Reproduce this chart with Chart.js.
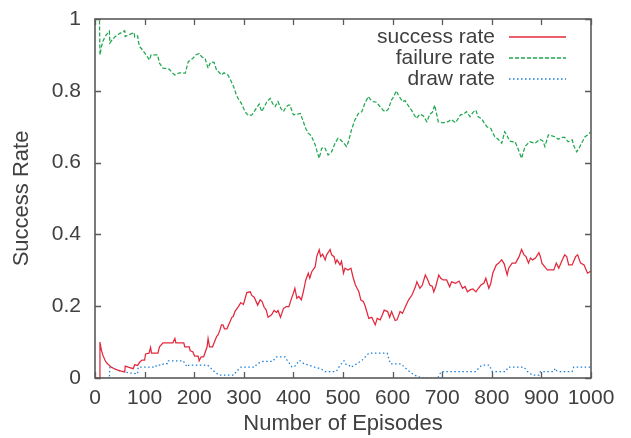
<!DOCTYPE html>
<html>
<head>
<meta charset="utf-8">
<script src="https://cdn.jsdelivr.net/npm/chart.js@4/dist/chart.umd.min.js"></script>
<style>
  html, body { margin: 0; padding: 0; background: #ffffff; }
  canvas { display: block; }
</style>
</head>
<body>
<canvas id="c" width="631" height="438"></canvas>
<script>
// Rates per episode (moving average over recent games)
const successEp = [0,9,10,13,16,20,23,28,33,40,46,53,60,61,70,77,80,86,90,95,100,102,109,112,114,127,130,137,157,161,163,179,181,190,192,197,201,208,210,214,219,226,228,231,237,245,248,252,255,258,261,266,270,276,279,282,289,294,299,301,306,313,316,321,328,333,337,341,345,349,356,361,366,369,374,380,386,391,395,400,403,407,411,416,420,425,430,433,437,444,447,452,455,459,464,467,474,477,482,485,488,494,497,501,504,510,516,520,525,532,536,541,545,552,558,565,569,575,579,583,590,594,598,605,609,615,620,626,632,639,646,649,652,655,660,666,671,675,680,683,687,693,697,702,709,715,719,727,734,741,746,751,757,762,768,773,778,784,788,791,794,798,802,809,814,820,825,831,834,841,848,855,860,865,869,874,878,882,888,895,898,901,909,912,918,925,930,935,942,947,951,955,962,969,973,979,986,993,1000];
const successVal = [0,0,0.1,0.077,0.063,0.05,0.043,0.036,0.03,0.025,0.022,0.019,0.017,0.033,0.029,0.026,0.037,0.035,0.044,0.05,0.05,0.067,0.069,0.085,0.069,0.069,0.087,0.098,0.098,0.11,0.098,0.098,0.087,0.087,0.076,0.073,0.061,0.061,0.048,0.059,0.059,0.087,0.11,0.087,0.087,0.115,0.12,0.134,0.148,0.148,0.137,0.137,0.15,0.169,0.172,0.185,0.199,0.21,0.205,0.213,0.238,0.24,0.23,0.225,0.203,0.218,0.213,0.197,0.19,0.169,0.176,0.188,0.183,0.188,0.169,0.194,0.199,0.199,0.217,0.236,0.25,0.222,0.227,0.218,0.24,0.273,0.292,0.278,0.296,0.31,0.338,0.357,0.338,0.345,0.329,0.343,0.358,0.343,0.338,0.32,0.329,0.315,0.325,0.292,0.306,0.301,0.306,0.282,0.259,0.24,0.217,0.213,0.199,0.166,0.169,0.148,0.166,0.162,0.175,0.189,0.185,0.169,0.185,0.16,0.162,0.185,0.18,0.199,0.217,0.231,0.254,0.268,0.259,0.25,0.259,0.287,0.273,0.259,0.255,0.24,0.255,0.287,0.278,0.273,0.273,0.254,0.268,0.264,0.27,0.25,0.255,0.24,0.246,0.248,0.24,0.25,0.259,0.264,0.278,0.264,0.25,0.264,0.292,0.315,0.32,0.329,0.318,0.287,0.306,0.32,0.32,0.338,0.358,0.343,0.338,0.32,0.334,0.329,0.334,0.349,0.338,0.32,0.306,0.301,0.301,0.301,0.32,0.306,0.329,0.343,0.338,0.315,0.315,0.338,0.343,0.32,0.315,0.292,0.298];

const failureEp = [0,9,10,13,16,20,25,29,30,35,40,50,60,61,70,79,80,86,87,90,95,103,110,113,126,130,137,150,156,161,170,182,188,192,197,203,210,215,222,228,233,240,245,249,255,260,268,275,280,285,290,295,300,305,310,316,320,325,331,336,340,346,353,358,363,369,375,380,385,390,393,400,407,414,420,425,430,436,444,448,452,457,463,470,477,484,490,494,501,507,511,517,524,531,538,544,551,556,561,568,574,581,585,591,598,603,607,613,620,625,631,638,648,655,662,669,675,680,685,692,702,712,718,727,737,743,749,756,762,768,772,779,785,790,798,806,813,820,826,830,836,843,847,853,860,867,872,877,887,897,903,907,914,920,927,934,940,947,954,962,966,971,976,981,988,993,1000];
const failureVal = [1,1,0.9,0.923,0.938,0.95,0.96,0.966,0.933,0.943,0.95,0.96,0.967,0.951,0.957,0.962,0.95,0.953,0.94,0.923,0.915,0.9,0.886,0.9,0.9,0.877,0.863,0.86,0.85,0.844,0.85,0.849,0.881,0.885,0.89,0.9,0.904,0.895,0.89,0.863,0.88,0.879,0.858,0.853,0.844,0.85,0.844,0.825,0.81,0.788,0.775,0.765,0.75,0.737,0.731,0.733,0.74,0.751,0.763,0.742,0.752,0.768,0.779,0.765,0.756,0.77,0.75,0.742,0.755,0.76,0.76,0.733,0.735,0.737,0.714,0.695,0.682,0.675,0.649,0.63,0.612,0.64,0.642,0.621,0.63,0.654,0.668,0.665,0.655,0.645,0.658,0.691,0.719,0.737,0.742,0.765,0.784,0.775,0.77,0.768,0.757,0.746,0.742,0.748,0.775,0.785,0.8,0.785,0.77,0.773,0.76,0.746,0.723,0.735,0.73,0.714,0.735,0.74,0.76,0.714,0.711,0.714,0.72,0.711,0.733,0.735,0.742,0.728,0.74,0.746,0.728,0.723,0.71,0.7,0.695,0.672,0.665,0.654,0.686,0.677,0.66,0.658,0.658,0.638,0.612,0.645,0.652,0.658,0.654,0.665,0.66,0.645,0.677,0.675,0.672,0.665,0.67,0.67,0.658,0.663,0.645,0.63,0.64,0.654,0.672,0.677,0.686];

const drawEp = [0,29,30,35,40,50,60,70,80,86,87,100,122,124,136,138,146,148,178,181,186,189,227,232,237,243,250,280,285,290,294,322,326,331,338,358,363,366,383,386,390,397,402,406,412,421,430,443,452,460,463,486,490,494,497,502,506,512,515,520,529,539,545,552,589,592,596,617,624,634,644,654,656,691,694,698,768,772,775,781,795,798,801,828,833,865,868,872,878,882,895,898,925,928,931,935,962,965,1000];
const drawVal = [0,0,0.033,0.029,0.025,0.02,0.017,0.014,0.0125,0.0116,0.03,0.03,0.03,0.036,0.036,0.04,0.04,0.048,0.048,0.04,0.031,0.036,0.036,0.03,0.022,0.015,0.008,0.008,0.018,0.025,0.03,0.03,0.038,0.042,0.046,0.046,0.055,0.059,0.059,0.052,0.045,0.031,0.031,0.038,0.049,0.04,0.036,0.03,0.027,0.022,0.018,0.018,0.025,0.036,0.04,0.048,0.038,0.036,0.03,0.033,0.041,0.05,0.059,0.069,0.069,0.055,0.039,0.039,0.03,0.018,0.008,0.003,0,0,0.008,0.018,0.018,0.025,0.03,0.036,0.036,0.027,0.018,0.018,0.03,0.03,0.025,0.018,0.012,0.008,0.008,0.018,0.018,0.027,0.02,0.018,0.018,0.03,0.03];

const seriesNames = ['success rate', 'failure rate', 'draw rate'];
const xTicks = [0, 100, 200, 300, 400, 500, 600, 700, 800, 900, 1000];
const xTickLabels = ['0', '100', '200', '300', '400', '500', '600', '700', '800', '900', '1000'];
const yTicks = [0, 0.2, 0.4, 0.6, 0.8, 1];
const yTickLabels = ['0', '0.2', '0.4', '0.6', '0.8', '1'];

const FONT = '"Liberation Sans", Arial, Helvetica, sans-serif';
const TEXT = '#404040';
const FRAME = '#5a5a5a';
const colors = ['#e3283c', '#1fa84f', '#1a7fd6'];
const dashes = [[], [4, 2], [1.5, 2.5]];

const toPoints = (xs, ys) => xs.map((x, i) => ({ x: x, y: ys[i] }));
const labelFor = (ticks, labels) => v => {
  const i = ticks.findIndex(t => Math.abs(t - v) < 1e-6);
  return i < 0 ? '' : labels[i];
};

// Box around the plot with inward tick marks on all four sides
const framePlugin = {
  id: 'frame',
  afterDraw(chart) {
    const { ctx, chartArea: a, scales } = chart;
    const len = 6;
    ctx.save();
    ctx.strokeStyle = FRAME;
    ctx.lineWidth = 1.3;
    ctx.setLineDash([]);
    ctx.beginPath();
    xTicks.forEach(v => {
      const px = Math.round(scales.x.getPixelForValue(v)) + 0.5;
      ctx.moveTo(px, a.bottom); ctx.lineTo(px, a.bottom - len);
      ctx.moveTo(px, a.top); ctx.lineTo(px, a.top + len);
    });
    yTicks.forEach(v => {
      const py = Math.round(scales.y.getPixelForValue(v)) + 0.5;
      ctx.moveTo(a.left, py); ctx.lineTo(a.left + len, py);
      ctx.moveTo(a.right, py); ctx.lineTo(a.right - len, py);
    });
    ctx.stroke();
    ctx.lineWidth = 1.6;
    ctx.strokeRect(a.left, a.top, a.right - a.left, a.bottom - a.top);
    ctx.restore();
  }
};

// Key in the upper right: label on the left, line sample on the right
const keyPlugin = {
  id: 'key',
  afterDatasetsDraw(chart) {
    const { ctx, chartArea: a } = chart;
    const textRight = a.right - 96;
    const sx0 = a.right - 82, sx1 = a.right - 25;
    ctx.save();
    ctx.font = '21px ' + FONT;
    ctx.textAlign = 'right';
    ctx.textBaseline = 'middle';
    seriesNames.forEach((name, i) => {
      const y = Math.round(a.top + 18 + i * 21);
      ctx.fillStyle = TEXT;
      ctx.fillText(name, textRight, y);
      ctx.strokeStyle = colors[i];
      ctx.lineWidth = 1.4;
      ctx.setLineDash(dashes[i]);
      ctx.beginPath();
      ctx.moveTo(sx0, y);
      ctx.lineTo(sx1, y);
      ctx.stroke();
    });
    ctx.restore();
  }
};

const makeSet = (i, xs, ys) => ({
  label: seriesNames[i],
  data: toPoints(xs, ys),
  borderColor: colors[i],
  borderDash: dashes[i],
  borderWidth: 1.25,
  pointRadius: 0,
  fill: false,
  tension: 0
});

new Chart(document.getElementById('c').getContext('2d'), {
  type: 'line',
  data: {
    datasets: [
      makeSet(0, successEp, successVal),
      makeSet(1, failureEp, failureVal),
      makeSet(2, drawEp, drawVal)
    ]
  },
  options: {
    responsive: false,
    animation: false,
    devicePixelRatio: 1,
    layout: { padding: { top: 19, right: 40, left: 0, bottom: 0 } },
    plugins: { legend: { display: false }, tooltip: { enabled: false } },
    scales: {
      x: {
        type: 'linear', min: 0, max: 1000,
        afterBuildTicks: s => { s.ticks = xTicks.map(v => ({ value: v })); },
        afterFit: s => { s.height = 60; s.paddingLeft = 0; s.paddingRight = 0; },
        grid: { display: false, drawTicks: false },
        border: { display: false },
        ticks: {
          color: TEXT, font: { family: FONT, size: 21 }, padding: 8, maxRotation: 0, autoSkip: false,
          callback: labelFor(xTicks, xTickLabels)
        },
        title: { display: true, text: 'Number of Episodes', color: TEXT, font: { family: FONT, size: 22 }, padding: { top: 0, bottom: 1 } }
      },
      y: {
        type: 'linear', min: 0, max: 1,
        afterBuildTicks: s => { s.ticks = yTicks.map(v => ({ value: v })); },
        afterFit: s => { s.width = 95; s.paddingTop = 0; s.paddingBottom = 0; },
        grid: { display: false, drawTicks: false },
        border: { display: false },
        ticks: {
          color: TEXT, font: { family: FONT, size: 21 }, padding: 14,
          callback: labelFor(yTicks, yTickLabels)
        },
        title: { display: true, text: 'Success Rate', color: TEXT, font: { family: FONT, size: 22 }, padding: { top: 9, bottom: 0 } }
      }
    }
  },
  plugins: [framePlugin, keyPlugin]
});
</script>
</body>
</html>
